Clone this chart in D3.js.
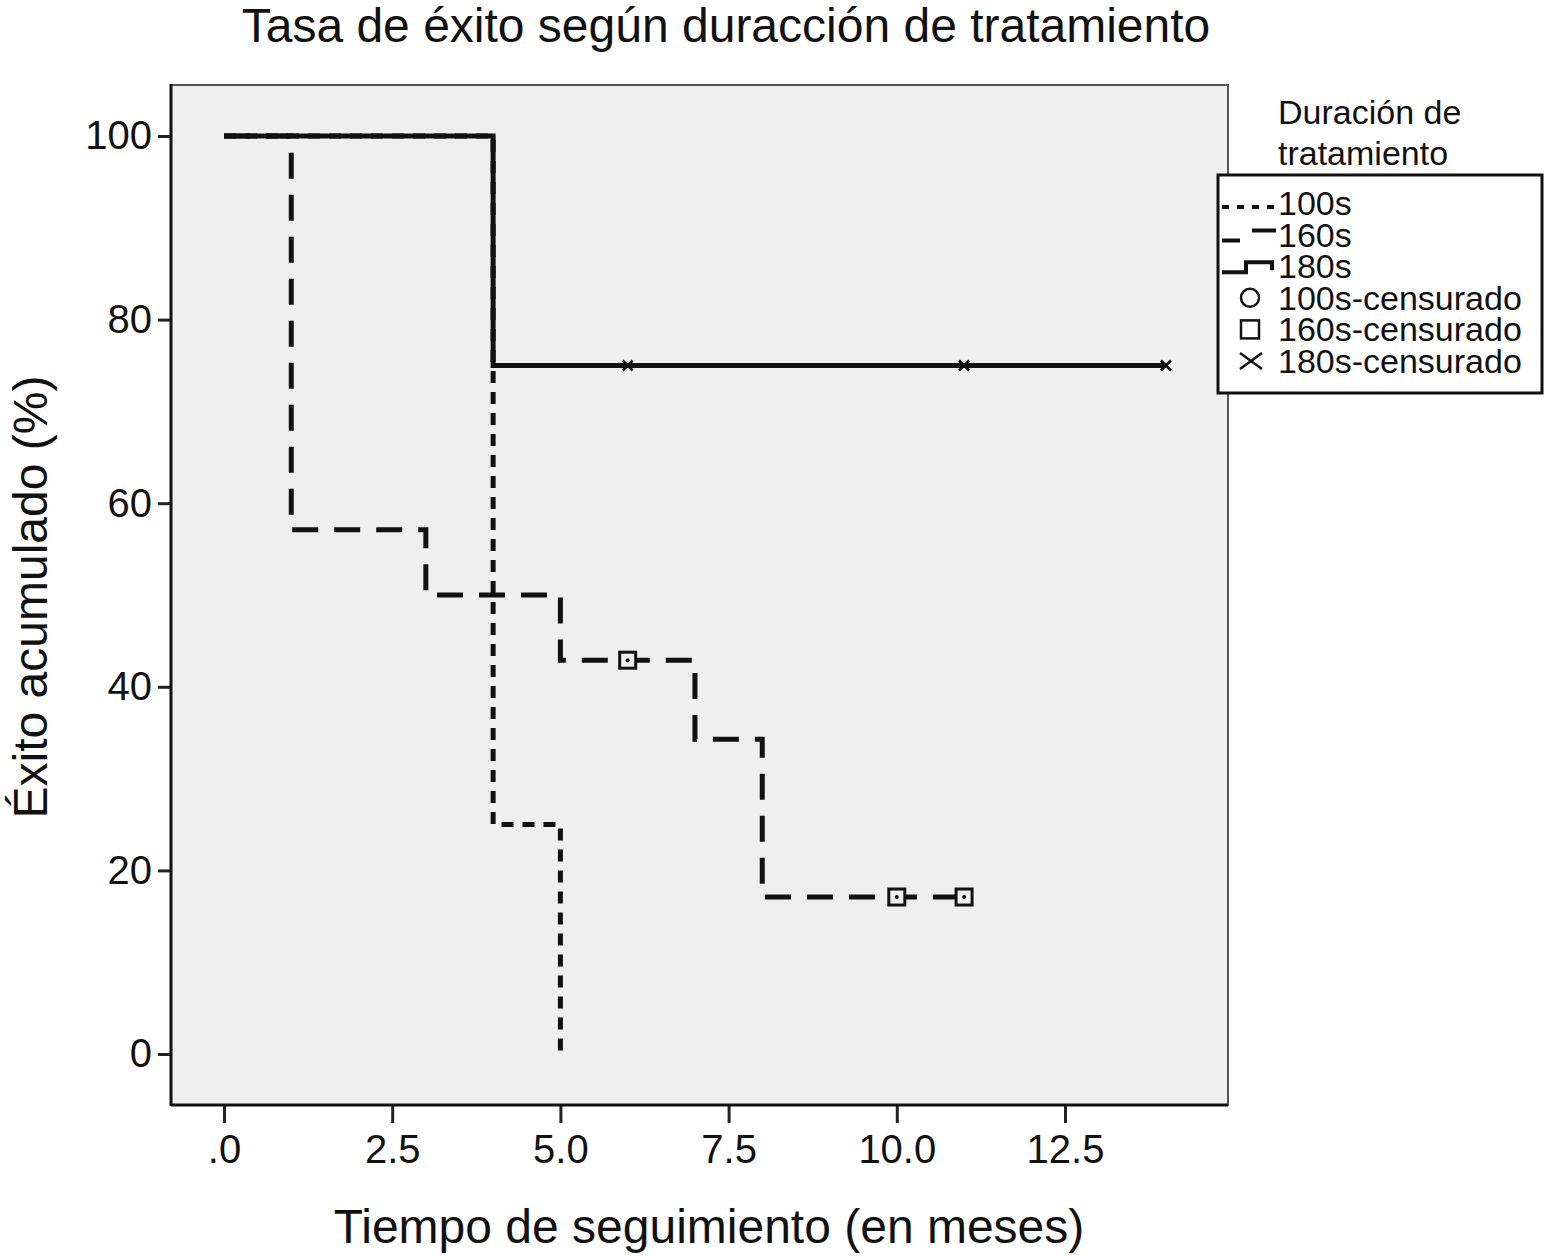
<!DOCTYPE html>
<html>
<head>
<meta charset="utf-8">
<script src="https://d3js.org/d3.v7.min.js"></script>
<style>
  body { margin: 0; background: #fff; }
  text { font-family: "Liberation Sans", Arial, sans-serif; fill: #111; }
</style>
</head>
<body>
<svg id="chart" width="1544" height="1256"></svg>
<script>
// step points (time, cumulative success %) for each group
const s100 = [[0, 100], [4, 25], [5, 0]];
const s160 = [[0, 100], [1, 57.1], [3, 50], [5, 42.9], [7, 34.3], [8, 17.1], [11, 17.1]];
const s180 = [[0, 100], [4, 75], [14, 75]];

// censored observations
const cens160 = [[6, 42.9], [10, 17.1], [11, 17.1]];
const cens180 = [[6, 75], [11, 75], [14, 75]];

const xTicks = [0, 2.5, 5, 7.5, 10, 12.5];
const xTickLabels = [".0", "2.5", "5.0", "7.5", "10.0", "12.5"];
const yTicks = [0, 20, 40, 60, 80, 100];
const legendLabels = ["100s", "160s", "180s", "100s-censurado", "160s-censurado", "180s-censurado"];

const svg = d3.select("#chart");
const plot = { left: 171, right: 1228, top: 85, bottom: 1105 };

const x = d3.scaleLinear().domain([0, 12.5]).range([224, 1065]);
const y = d3.scaleLinear().domain([0, 100]).range([1054, 136]);

// plot background
svg.append("rect")
  .attr("x", plot.left).attr("y", plot.top)
  .attr("width", plot.right - plot.left).attr("height", plot.bottom - plot.top)
  .attr("fill", "#efefef")
  .attr("stroke", "#555").attr("stroke-width", 2);

// axes
const xAxis = svg.append("g")
  .attr("transform", `translate(0,${plot.bottom})`)
  .call(d3.axisBottom(x).tickValues(xTicks).tickSize(18).tickPadding(12)
    .tickFormat((d, i) => xTickLabels[i]));
const yAxis = svg.append("g")
  .attr("transform", `translate(${plot.left},0)`)
  .call(d3.axisLeft(y).tickValues(yTicks).tickSize(13).tickPadding(6));

[xAxis, yAxis].forEach(g => {
  g.select(".domain").remove();
  g.selectAll(".tick line").attr("stroke", "#222").attr("stroke-width", 3);
  g.selectAll(".tick text").attr("font-size", 40).attr("fill", "#111")
    .style("font-family", "Liberation Sans, Arial, sans-serif");
});

svg.append("line").attr("x1", plot.left).attr("x2", plot.left)
  .attr("y1", plot.top - 1).attr("y2", plot.bottom + 1)
  .attr("stroke", "#111").attr("stroke-width", 3);
svg.append("line").attr("x1", plot.left).attr("x2", plot.right)
  .attr("y1", plot.bottom).attr("y2", plot.bottom)
  .attr("stroke", "#111").attr("stroke-width", 3);

// survival steps
const step = d3.line().x(d => x(d[0])).y(d => y(d[1])).curve(d3.curveStepAfter);

const groups = [
  { data: s100, dash: "12,9" },
  { data: s160, dash: "26,16" },
  { data: s180, dash: null }
];

groups.forEach(g => {
  svg.append("path")
    .attr("d", step(g.data))
    .attr("fill", "none")
    .attr("stroke", "#111")
    .attr("stroke-width", 5)
    .attr("stroke-dasharray", g.dash);
});

// censored marks
svg.selectAll(".c160").data(cens160).join("g")
  .attr("class", "c160")
  .attr("transform", d => `translate(${x(d[0])},${y(d[1])})`)
  .each(function () {
    const g = d3.select(this);
    g.append("rect").attr("x", -8).attr("y", -8).attr("width", 16).attr("height", 16)
      .attr("fill", "#efefef").attr("stroke", "#111").attr("stroke-width", 3);
    g.append("circle").attr("r", 2).attr("fill", "#111");
  });

svg.selectAll(".c180").data(cens180).join("path")
  .attr("class", "c180")
  .attr("d", "M-5,-5L5,5M-5,5L5,-5")
  .attr("transform", d => `translate(${x(d[0])},${y(d[1])})`)
  .attr("stroke", "#111").attr("stroke-width", 2.5);

// titles
svg.append("text").attr("x", 726).attr("y", 42).attr("text-anchor", "middle")
  .attr("font-size", 48).text("Tasa de éxito según duracción de tratamiento");
svg.append("text").attr("x", 709).attr("y", 1243).attr("text-anchor", "middle")
  .attr("font-size", 48).text("Tiempo de seguimiento (en meses)");
svg.append("text").attr("transform", "translate(47,597) rotate(-90)")
  .attr("text-anchor", "middle").attr("font-size", 48).text("Éxito acumulado (%)");

// legend
svg.append("text").attr("x", 1278).attr("y", 124).attr("font-size", 34).text("Duración de");
svg.append("text").attr("x", 1278).attr("y", 165).attr("font-size", 34).text("tratamiento");

svg.append("rect").attr("x", 1218).attr("y", 175).attr("width", 324).attr("height", 218)
  .attr("fill", "#fff").attr("stroke", "#111").attr("stroke-width", 3);

const rowY = i => 203 + i * 31.6;

svg.selectAll(".leg").data(legendLabels).join("text")
  .attr("class", "leg")
  .attr("x", 1278).attr("y", (d, i) => rowY(i) + 12)
  .attr("font-size", 34).text(d => d);

const sym = svg.append("g").attr("stroke", "#111").attr("fill", "none").attr("stroke-width", 4);
sym.append("path").attr("d", `M1222,${rowY(0) + 4}H1276`).attr("stroke-dasharray", "7,8");
sym.append("path").attr("d", `M1222,${rowY(1) + 6}H1240M1252,${rowY(1) - 4}H1276`);
sym.append("path").attr("d", `M1222,${rowY(2) + 6}H1246V${rowY(2) - 4}H1272V${rowY(2) + 4}`);
sym.append("circle").attr("cx", 1250).attr("cy", rowY(3)).attr("r", 9).attr("stroke-width", 2.5);
sym.append("rect").attr("x", 1241).attr("y", rowY(4) - 9).attr("width", 18).attr("height", 18).attr("stroke-width", 2.5);
sym.append("path").attr("d", `M1240,${rowY(5) - 8}L1262,${rowY(5) + 8}M1240,${rowY(5) + 8}L1262,${rowY(5) - 8}`)
  .attr("stroke-width", 2.5);
</script>
</body>
</html>
